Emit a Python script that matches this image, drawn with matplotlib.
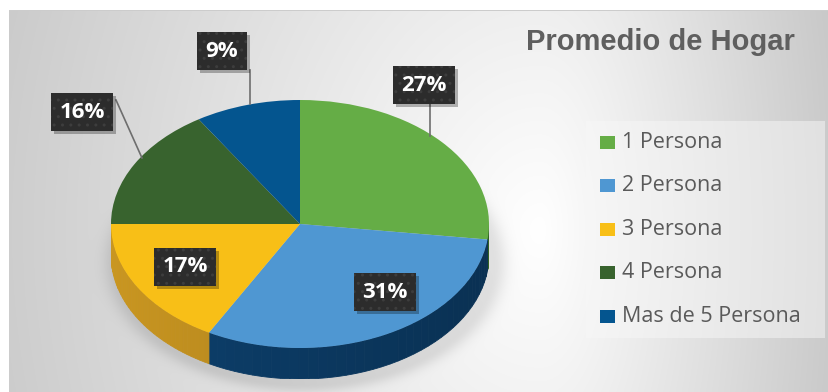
import numpy as np
import matplotlib.pyplot as plt
from matplotlib.colors import to_rgb
from matplotlib.patches import Polygon, Rectangle

# datos del grafico
categorias = ['1 Persona', '2 Persona', '3 Persona', '4 Persona', 'Mas de 5 Persona']
porcentajes = [27, 31, 17, 16, 9]
colores = ['#65ad46', '#4f97d2', '#f8bf17', '#38632e', '#04558f']
lados = ['#3f7a2c', '#0c3d68', '#c08f1f', '#284a21', '#033a62']
titulo = 'Promedio de Hogar'

W, H = 829, 392
fig = plt.figure(figsize=(W / 100, H / 100), dpi=100)

# fondo con degradado gris y sombra suave del pastel
bg = fig.add_axes([0, 0, 1, 1])
yy, xx = np.mgrid[0:H, 0:W].astype(float)
sx = np.where(xx < 540, 330.0, 170.0)
d = np.hypot((xx - 540) / sx, (yy - 230) / 420)
v = 1 - 0.12 * d
s = np.sqrt(((xx - 305) / 198) ** 2 + ((yy - 262) / 128) ** 2)
v = v - 0.10 * np.exp(-(np.clip(s - 0.95, 0, None) / 0.07) ** 2)
v = np.clip(v, 0, 1)
v[:10, :] = 1
v[:, :9] = 1
v[10, 9:] = 0.8
bg.imshow(np.dstack([v, v, v]), extent=[0, W, H, 0], aspect='auto', interpolation='bilinear')
bg.set_xlim(0, W)
bg.set_ylim(H, 0)
bg.axis('off')

# pastel "3D": cara superior con ax.pie y costado dibujado debajo
cx, cy, rx, ry, prof = 300, 224, 189, 124, 31
ax = fig.add_axes([(cx - rx) / W, (H - (cy + ry + prof)) / H, 2 * rx / W, (2 * ry + prof) / H])
dy = prof / ry

inicio = 90.0
acum = 0.0
for p, col in zip(porcentajes, lados):
    t1 = inicio - acum * 3.6
    t2 = inicio - (acum + p) * 3.6
    acum += p
    a, b = max(t2, -180.0), min(t1, 0.0)
    if a >= b:
        continue
    ts = np.linspace(a, b, 40)
    for k in range(len(ts) - 1):
        tt = np.radians(np.linspace(ts[k], ts[k + 1], 3))
        f = 1.05 - 0.25 * (np.cos(tt.mean()) + 1) / 2
        c = np.clip(np.array(to_rgb(col)) * f, 0, 1)
        pts = np.r_[np.c_[np.cos(tt), np.sin(tt)], np.c_[np.cos(tt[::-1]), np.sin(tt[::-1]) - dy]]
        ax.add_patch(Polygon(pts, closed=True, facecolor=c, edgecolor=c, linewidth=0.6))

cuñas, _ = ax.pie(porcentajes, colors=colores, startangle=90, counterclock=False,
                  radius=1, wedgeprops=dict(linewidth=0))
for w in cuñas:
    w.set_zorder(3)
ax.set_aspect('auto')
ax.set_xlim(-1, 1)
ax.set_ylim(-1 - dy, 1)
ax.axis('off')

# capa superior en pixeles para etiquetas, titulo y leyenda
ov = fig.add_axes([0, 0, 1, 1])
ov.set_xlim(0, W)
ov.set_ylim(H, 0)
ov.axis('off')

# lineas guia
ov.plot([430, 430], [102, 136], color='#6e6e6e', lw=1.2)
ov.plot([250, 250], [70, 104], color='#6e6e6e', lw=1.2)
ov.plot([116, 142], [100, 158], color='#6e6e6e', lw=1.2)

pos_etiquetas = [(424, 85), (385, 292), (185, 267), (82, 112), (222, 51)]
textos = []
for p, (x, y) in zip(porcentajes, pos_etiquetas):
    t = ov.text(x, y, f'{p}%', ha='center', va='center', fontsize=16, zorder=5,
                fontweight='bold', family='Open Sans', color='white',
                bbox=dict(boxstyle='square,pad=0.38', facecolor='#2c2c2c', edgecolor='#3d3d3d',
                          hatch='..', linewidth=0))
    textos.append(t)

# sombra de cada caja, a partir de su tamaño real
fig.canvas.draw()
r = fig.canvas.get_renderer()
inv = ov.transData.inverted()
for t in textos:
    bb = t.get_bbox_patch().get_window_extent(r)
    (x0, y0), (x1, y1) = inv.transform([[bb.x0, bb.y0], [bb.x1, bb.y1]])
    ov.add_patch(Rectangle((min(x0, x1) + 3, min(y0, y1) + 3), abs(x1 - x0), abs(y1 - y0),
                           facecolor='black', alpha=0.28, linewidth=0, zorder=4))

ov.text(660, 42, titulo, ha='center', va='center', fontsize=21, fontweight='bold',
        family='Liberation Sans', color='#5f5f5f')

# leyenda
ov.add_patch(Rectangle((586, 121), 239, 217, facecolor='#f7f7f7', alpha=0.5, linewidth=0))
for i, (lab, col) in enumerate(zip(categorias, colores)):
    y = 142 + i * 43.5
    ov.add_patch(Rectangle((600, y - 6.5), 15, 13, facecolor=col, linewidth=0))
    ov.text(622, y, lab, ha='left', va='center', fontsize=15.5, family='Open Sans',
            color='#5a5a5a')

fig.savefig('out.png', dpi=100)
